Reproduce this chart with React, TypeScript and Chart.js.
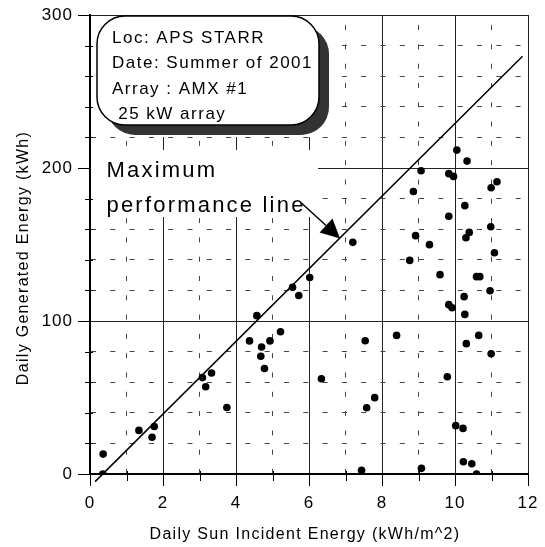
import React, { useEffect, useRef } from 'react';
import { Chart, registerables } from 'chart.js';

Chart.register(...registerables);

// ---- data ----
const sunEnergy = [
  0.35, 0.36, 1.34, 1.70, 1.76, 3.08, 3.17, 3.33, 3.75, 4.37,
  4.57, 4.68, 4.70, 4.78, 4.93, 5.22, 5.55, 5.72, 6.02, 6.34,
  7.20, 7.44, 7.54, 7.58, 7.80, 8.40, 8.76, 8.86, 8.92, 9.07,
  9.08, 9.30, 9.59, 9.79, 9.83, 9.83, 9.83, 9.92, 9.96, 10.02,
  10.05, 10.22, 10.23, 10.25, 10.27, 10.27, 10.30, 10.31, 10.33, 10.39,
  10.46, 10.59, 10.59, 10.68, 10.65, 10.96, 10.98, 10.99, 10.99, 11.08,
  11.15,
];
const generatedEnergy = [
  0, 13, 28.5, 24, 31, 63, 57, 66, 43.5, 87,
  103.5, 77, 83, 69, 87, 93, 122, 116.7, 128.4, 62.3,
  151.4, 2.4, 87.1, 43.3, 49.9, 90.6, 139.6, 184.6, 155.8, 198.2,
  3.7, 149.9, 130.3, 63.6, 196.3, 168.4, 110.7, 108.7, 194.5, 31.6,
  211.7, 29.8, 8, 115.9, 175.4, 104.3, 154.4, 85.2, 204.5, 157.9,
  6.7, 0, 129, 129, 90.6, 119.8, 161.6, 187.1, 78.6, 144.6,
  191,
];
const maxLineX = [0.14, 11.85];
const maxLineY = [-5, 273];
const xTickLabels = [0, 2, 4, 6, 8, 10, 12];
const yTickLabels = [0, 100, 200, 300];
const infoLines = ['Loc: APS STARR', 'Date: Summer of 2001', 'Array : AMX #1', ' 25 kW array'];
const lineLabel = ['Maximum', 'performance line'];
const arrowTail = [5.8, 177];
const arrowTip = [6.85, 154];
const xTitle = 'Daily Sun Incident Energy (kWh/m^2)';
const yTitle = 'Daily Generated Energy (kWh)';

const FONT = '"Liberation Sans", Arial, Helvetica, sans-serif';

const decor = {
  id: 'decor',
  beforeDraw(chart: any) {
    chart.ctx.letterSpacing = '1px';
  },
  beforeDatasetsDraw(chart: any) {
    const { ctx, chartArea: ca } = chart;
    ctx.save();
    ctx.fillStyle = '#fff';
    // mask behind info box
    ctx.fillRect(ca.left + 1, ca.top + 1, 240, 121);
    // mask behind line label
    ctx.fillRect(ca.left + 1, ca.top + 135, 227, 67);
    ctx.restore();
  },
  afterDatasetsDraw(chart: any) {
    const { ctx, chartArea: ca, scales } = chart;
    const xs = scales.x;
    const ys = scales.y;
    ctx.save();
    // info box
    const bx = ca.left + 7;
    const by = ca.top + 1;
    const bw = 222;
    const bh = 109;
    const r = 28;
    ctx.fillStyle = '#333';
    ctx.beginPath();
    ctx.roundRect(bx + 10, by + 10, bw, bh, r);
    ctx.fill();
    ctx.fillStyle = '#fff';
    ctx.strokeStyle = '#000';
    ctx.lineWidth = 1.5;
    ctx.beginPath();
    ctx.roundRect(bx, by, bw, bh, r);
    ctx.fill();
    ctx.stroke();

    ctx.fillStyle = '#000';
    ctx.textAlign = 'left';
    ctx.textBaseline = 'alphabetic';
    ctx.font = `17px ${FONT}`;
    ctx.letterSpacing = '1.5px';
    const baselines = [27.5, 53, 79, 103.5];
    infoLines.forEach((t, i) => {
      ctx.fillText(t, ca.left + 22, ca.top + baselines[i]);
    });

    // line label
    ctx.font = `22px ${FONT}`;
    ctx.letterSpacing = '2.2px';
    ctx.fillText(lineLabel[0], ca.left + 16.5, ca.top + 161.7);
    ctx.fillText(lineLabel[1], ca.left + 16.5, ca.top + 196.7);

    // arrow
    const tx = xs.getPixelForValue(arrowTail[0]);
    const ty = ys.getPixelForValue(arrowTail[1]);
    const hx = xs.getPixelForValue(arrowTip[0]);
    const hy = ys.getPixelForValue(arrowTip[1]);
    const ang = Math.atan2(hy - ty, hx - tx);
    const hl = 19;
    const hw = 9.5;
    const bxp = hx - hl * Math.cos(ang);
    const byp = hy - hl * Math.sin(ang);
    ctx.lineWidth = 1.5;
    ctx.beginPath();
    ctx.moveTo(tx, ty);
    ctx.lineTo(bxp, byp);
    ctx.stroke();
    ctx.beginPath();
    ctx.moveTo(hx, hy);
    ctx.lineTo(bxp + hw * Math.sin(ang), byp - hw * Math.cos(ang));
    ctx.lineTo(bxp - hw * Math.sin(ang), byp + hw * Math.cos(ang));
    ctx.closePath();
    ctx.fill();
    ctx.restore();
  },
  afterDraw(chart: any) {
    const { ctx, chartArea: ca, scales } = chart;
    const xs = scales.x;
    const ys = scales.y;
    ctx.save();
    ctx.strokeStyle = '#000';
    ctx.lineWidth = 1;
    ctx.beginPath();
    for (let v = xs.min; v <= xs.max; v += 1) {
      const p = Math.round(xs.getPixelForValue(v)) + 0.5;
      if (v % 2 === 0) {
        ctx.moveTo(p, ca.bottom);
        ctx.lineTo(p, ca.bottom + 12);
      } else {
        ctx.moveTo(p, ca.bottom - 3);
        ctx.lineTo(p, ca.bottom + 7);
      }
    }
    for (let v = ys.min; v <= ys.max; v += 20) {
      const p = Math.round(ys.getPixelForValue(v)) + 0.5;
      if (v % 100 === 0) {
        ctx.moveTo(ca.left - 12, p);
        ctx.lineTo(ca.left, p);
      } else {
        ctx.moveTo(ca.left - 5, p);
        ctx.lineTo(ca.left + 3, p);
      }
    }
    ctx.stroke();

    // axis titles
    ctx.fillStyle = '#000';
    ctx.font = `16px ${FONT}`;
    ctx.letterSpacing = '1.3px';
    ctx.textAlign = 'center';
    ctx.textBaseline = 'alphabetic';
    ctx.fillText(xTitle, (ca.left + ca.right) / 2 - 4, 539);
    ctx.translate(28.3, (ca.top + ca.bottom) / 2 + 13.5);
    ctx.rotate(-Math.PI / 2);
    ctx.fillText(yTitle, 0, 0);
    ctx.restore();
  },
};

const zeroPad = (s: any) => {
  s.paddingTop = 0;
  s.paddingBottom = 0;
  s.paddingLeft = 0;
  s.paddingRight = 0;
};

export default function App() {
  const ref = useRef<HTMLCanvasElement | null>(null);
  useEffect(() => {
    if (!ref.current) return;
    const points = sunEnergy.map((x, i) => ({ x, y: generatedEnergy[i] }));
    const linePts = maxLineX.map((x, i) => ({ x, y: maxLineY[i] }));
    const chart = new Chart(ref.current, {
      type: 'scatter',
      data: {
        datasets: [
          {
            label: 'Daily data',
            data: points,
            backgroundColor: '#000',
            borderWidth: 0,
            pointRadius: 3.8,
          },
          {
            label: 'Maximum performance line',
            data: linePts,
            showLine: true,
            borderColor: '#000',
            borderWidth: 1.5,
            pointRadius: 0,
            clip: false,
          } as any,
        ],
      },
      options: {
        responsive: false,
        animation: false,
        layout: { padding: { top: 15, right: 17, left: 0, bottom: 0 } },
        plugins: { legend: { display: false }, tooltip: { enabled: false } },
        scales: {
          x: {
            type: 'linear',
            min: 0,
            max: 12,
            afterFit: (s: any) => { s.height = 73; zeroPad(s); },
            ticks: {
              stepSize: 1,
              autoSkip: false,
              maxRotation: 0,
              padding: 19,
              color: '#000',
              font: { family: FONT, size: 17 },
              callback: (v: any) => (xTickLabels.includes(Number(v)) ? String(v) : ''),
            },
            grid: {
              drawTicks: false,
              lineWidth: 1,
              color: (c: any) => (c.tick && c.tick.value % 2 === 0 ? '#222' : '#444'),
            },
            border: {
              display: true,
              color: '#000',
              width: 2,
              dash: (c: any) => (c.tick && c.tick.value % 2 !== 0 ? [5, 14.3] : []),
              dashOffset: 9.2,
            },
          },
          y: {
            type: 'linear',
            min: 0,
            max: 300,
            afterFit: (s: any) => { s.width = 90; zeroPad(s); },
            ticks: {
              stepSize: 20,
              autoSkip: false,
              padding: 17,
              color: '#000',
              font: { family: FONT, size: 17 },
              callback: (v: any) => (yTickLabels.includes(Number(v)) ? String(v) : ''),
            },
            grid: {
              drawTicks: false,
              lineWidth: 1,
              color: (c: any) => (c.tick && c.tick.value % 100 === 0 ? '#222' : '#444'),
            },
            border: {
              display: true,
              color: '#000',
              width: 2,
              dash: (c: any) => (c.tick && c.tick.value % 100 !== 0 ? [5, 14.3] : []),
            },
          },
        },
      },
      plugins: [decor],
    });
    return () => chart.destroy();
  }, []);
  return (
    <div style={{ position: 'absolute', left: 0, top: 0, width: 545, height: 547 }}>
      <canvas ref={ref} width={545} height={547} />
    </div>
  );
}
